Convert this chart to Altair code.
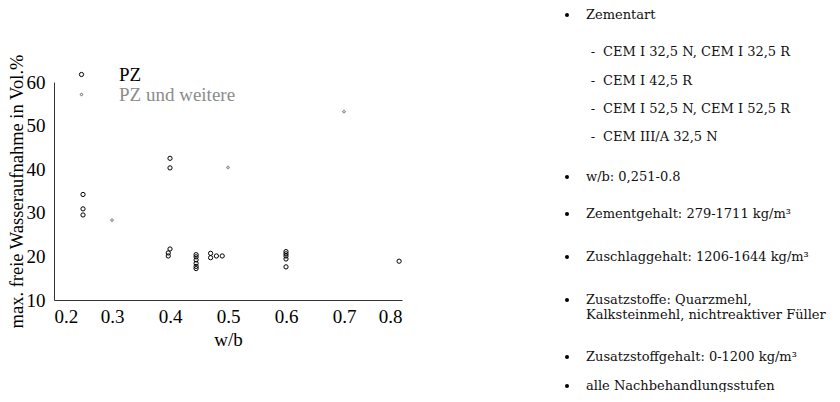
import altair as alt
import pandas as pd

# ---------------- data ----------------
series_names = ["PZ", "PZ und weitere"]

pz_wb = [0.25, 0.25, 0.25,
         0.40, 0.40, 0.40, 0.397, 0.397,
         0.445, 0.445, 0.445, 0.445, 0.445, 0.445,
         0.47, 0.47, 0.48, 0.49,
         0.60, 0.60, 0.60, 0.60, 0.60,
         0.795]
pz_val = [34.2, 30.9, 29.5,
          42.5, 40.3, 21.7, 20.8, 20.1,
          20.4, 19.9, 19.2, 18.4, 17.7, 17.2,
          20.7, 19.7, 20.1, 20.1,
          21.1, 20.6, 20.1, 19.4, 17.6,
          18.9]

pw_wb = [0.30, 0.50, 0.70]
pw_val = [28.3, 40.4, 53.2]

x_ticks = [0.2, 0.3, 0.4, 0.5, 0.6, 0.7, 0.8]
y_ticks = [10, 20, 30, 40, 50, 60]
x_title = "w/b"
y_title = "max. freie Wasseraufnahme in Vol.%"

info_text = [
    "Zementart",
    "CEM I 32,5 N, CEM I 32,5 R",
    "CEM I 42,5 R",
    "CEM I 52,5 N, CEM I 52,5 R",
    "CEM III/A 32,5 N",
    "w/b: 0,251-0.8",
    "Zementgehalt: 279-1711 kg/m³",
    "Zuschlaggehalt: 1206-1644 kg/m³",
    "Zusatzstoffe: Quarzmehl,",
    "Kalksteinmehl, nichtreaktiver Füller",
    "Zusatzstoffgehalt: 0-1200 kg/m³",
    "alle Nachbehandlungsstufen",
]
info_kind = ["bullet", "dash", "dash", "dash", "dash", "bullet", "bullet",
             "bullet", "bullet", "cont", "bullet", "bullet"]

# ---------------- layout (page pixels) ----------------
info_line_y = [15, 52, 81, 109, 137, 177, 214, 257, 300, 315, 357, 386]
text_x = {"bullet": 586, "dash": 603, "cont": 586}
marker_x = {"bullet": 567, "dash": 593, "cont": None}

PLOT_LEFT, PLOT_TOP = 54, 82
W, H = 348, 218
PAD = {"left": PLOT_LEFT - 8, "top": PLOT_TOP - 8, "right": 430, "bottom": 92}

# ---------------- tables ----------------
pts = pd.DataFrame({
    "wb": pz_wb + pw_wb,
    "value": pz_val + pw_val,
    "series": [series_names[0]] * len(pz_wb) + [series_names[1]] * len(pw_wb),
})

info = pd.DataFrame({"text": info_text, "kind": info_kind, "py": info_line_y})
info["tx"] = info["kind"].map(text_x)
info["mx"] = info["kind"].map(marker_x)

serif = "Liberation Serif"
panel_font = "DejaVu Serif"

legend = alt.Legend(
    title=None, orient="none", legendX=18, legendY=-17,
    symbolSize=45, symbolStrokeWidth=1, labelFont=serif, labelFontSize=19,
    labelColor=alt.ExprRef("datum.value == 'PZ' ? '#000000' : '#8c8c8c'"),
    labelOffset=28, rowPadding=0, padding=0, labelLimit=300,
)

scatter = alt.Chart(pts).mark_point(filled=False, strokeWidth=1, opacity=1).encode(
    x=alt.X("wb:Q", scale=alt.Scale(domain=[0.2, 0.8], nice=False, zero=False),
            axis=alt.Axis(values=x_ticks, format=".1f", title=x_title, ticks=False,
                          labelPadding=7, titlePadding=4)),
    y=alt.Y("value:Q", scale=alt.Scale(domain=[10, 60], nice=False, zero=False),
            axis=alt.Axis(values=y_ticks, title=y_title, ticks=False,
                          labelPadding=9, titlePadding=0, titleFontSize=18.5)),
    color=alt.Color("series:N", scale=alt.Scale(domain=series_names, range=["#000000", "#8c8c8c"]),
                    legend=legend),
    shape=alt.Shape("series:N", scale=alt.Scale(domain=series_names, range=["circle", "cross"]),
                    legend=legend),
    size=alt.Size("series:N", scale=alt.Scale(domain=series_names, range=[18, 7]), legend=None),
)

px_scale = alt.Scale(domain=[0, 840], range=[-PLOT_LEFT, 840 - PLOT_LEFT])
py_scale = alt.Scale(domain=[0, 402], range=[-PLOT_TOP, 402 - PLOT_TOP])

info_text_layer = alt.Chart(info).mark_text(
    align="left", baseline="middle", font=panel_font, fontSize=13, color="#111111"
).encode(
    x=alt.X("tx:Q", scale=px_scale, axis=None),
    y=alt.Y("py:Q", scale=py_scale, axis=None),
    text="text:N",
)

bullets = alt.Chart(info).transform_filter("datum.kind == 'bullet'").mark_circle(
    size=16, color="#000000", opacity=1
).encode(
    x=alt.X("mx:Q", scale=px_scale, axis=None),
    y=alt.Y("py:Q", scale=py_scale, axis=None),
)

dashes = alt.Chart(info).transform_filter("datum.kind == 'dash'").mark_text(
    text="-", align="center", baseline="middle", font=panel_font, fontSize=13, color="#111111"
).encode(
    x=alt.X("mx:Q", scale=px_scale, axis=None),
    y=alt.Y("py:Q", scale=py_scale, axis=None),
)

chart = alt.layer(scatter, info_text_layer, bullets, dashes).resolve_scale(
    x="independent", y="independent"
).properties(
    width=W, height=H,
    autosize=alt.AutoSizeParams(type="none"),
    padding=PAD,
).configure_view(stroke=None).configure_axis(
    grid=False, domainColor="#333333", domainWidth=1,
    labelFont=serif, labelFontSize=19, labelColor="#000000",
    titleFont=serif, titleFontSize=19, titleFontWeight="normal", titleColor="#000000",
)

chart.save("out.html", embed_options={"renderer": "svg", "actions": False})
